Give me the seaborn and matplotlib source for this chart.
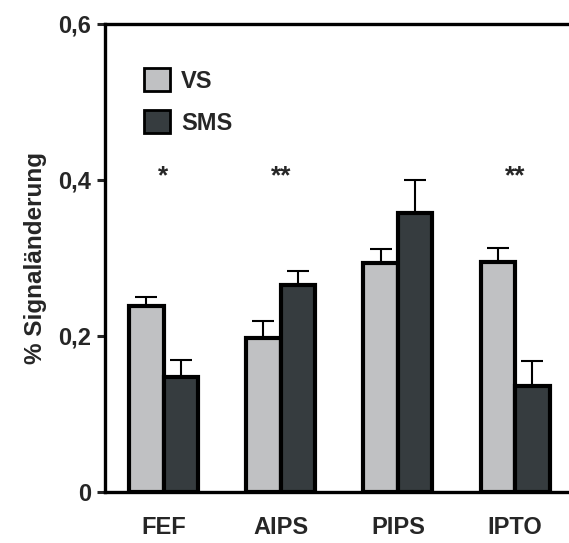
import pandas as pd
import matplotlib
matplotlib.use("Agg")
import matplotlib.pyplot as plt
import seaborn as sns

regions = ["FEF", "AIPS", "PIPS", "IPTO"]
vs_mean = [0.238, 0.197, 0.293, 0.295]
vs_err = [0.012, 0.022, 0.018, 0.018]
sms_mean = [0.147, 0.265, 0.357, 0.136]
sms_err = [0.022, 0.018, 0.043, 0.032]
stars = ["*", "**", "", "**"]
yticks = [0, 0.2, 0.4, 0.6]
ytick_labels = ["0", "0,2", "0,4", "0,6"]

df = pd.DataFrame({
    "region": regions * 2,
    "cond": ["VS"] * 4 + ["SMS"] * 4,
    "value": vs_mean + sms_mean,
    "err": vs_err + sms_err,
})

sns.set_style("white")
plt.rcParams["font.family"] = ["Liberation Sans", "DejaVu Sans"]
plt.rcParams["font.weight"] = "bold"

fig = plt.figure(figsize=(5.69, 5.43), dpi=100)
ax = fig.add_axes([0.1845, 0.094, 0.8155, 0.862])

palette = {"VS": "#c0c1c3", "SMS": "#363c3f"}
sns.barplot(data=df, x="region", y="value", hue="cond", palette=palette,
            order=regions, hue_order=["VS", "SMS"], width=0.59, errorbar=None,
            edgecolor="black", linewidth=3, saturation=1, ax=ax)

# upward-only error bars on top of each bar
for cont, cond in zip(ax.containers, ["VS", "SMS"]):
    errs = df[df["cond"] == cond]["err"].tolist()
    xs = [p.get_x() + p.get_width() / 2 for p in cont.patches]
    hs = [p.get_height() for p in cont.patches]
    ax.errorbar(xs, hs, yerr=[[0] * len(errs), errs], fmt="none",
                ecolor="black", elinewidth=1.5, capsize=8, capthick=1.5, zorder=1)

for i, s in enumerate(stars):
    if s:
        ax.text(i, 0.405, s, ha="center", va="center", fontsize=19, fontweight="bold")

ax.set_ylim(0, 0.6)
ax.set_xlim(-0.5, 3.46)
ax.set_yticks(yticks)
ax.set_yticklabels(ytick_labels, fontsize=17, fontweight="bold")
ax.tick_params(axis="y", direction="out", length=6, width=2.2, left=True, pad=4)
ax.tick_params(axis="x", length=0, pad=17, labelsize=17)
for lbl in ax.get_xticklabels():
    lbl.set_fontweight("bold")
ax.set_xlabel("")
ax.set_ylabel("% Signaländerung", fontsize=17.5, fontweight="bold", labelpad=8)

for side in ["left", "top", "bottom"]:
    ax.spines[side].set_linewidth(2.4)
    ax.spines[side].set_color("black")
ax.spines["right"].set_visible(False)

handles, labels = ax.get_legend_handles_labels()
leg = ax.legend(handles, labels, loc="upper left", bbox_to_anchor=(0.085, 0.905),
                frameon=False, fontsize=17, handlelength=1.1, handleheight=1.1,
                handletextpad=0.45, labelspacing=0.75, borderaxespad=0, borderpad=0)
for t in leg.get_texts():
    t.set_fontweight("bold")
for h in leg.legend_handles:
    h.set_linewidth(2)

fig.savefig("out.png", dpi=100)
